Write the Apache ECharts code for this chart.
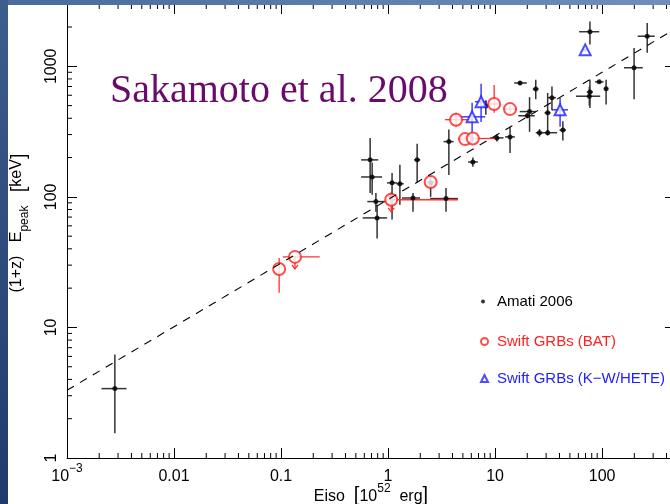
<!DOCTYPE html>
<html>
<head>
<meta charset="utf-8">
<script src="https://cdn.jsdelivr.net/npm/echarts@6/dist/echarts.min.js"></script>
<style>html,body{margin:0;padding:0;background:#fff}#chart{width:670px;height:504px}</style>
</head>
<body>
<div id="chart"></div>
<script>
// rows: Eiso, Epeak, Eiso low, Eiso high, Epeak low, Epeak high
var amati = [
  [0.0028, 3.4, 0.0021, 0.0036, 1.55, 6.2],
  [0.68, 192, 0.56, 0.81, 107, 283],
  [0.71, 142, 0.56, 0.88, 104, 183],
  [0.77, 92, 0.64, 0.98, 77, 107],
  [0.79, 69, 0.58, 0.98, 48, 87],
  [1.09, 128, 0.98, 1.21, 67, 152],
  [1.07, 100, 1.0, 1.15, 92, 108],
  [1.29, 126, 1.2, 1.4, 87, 176],
  [1.87, 192, 1.75, 2.0, 130, 255],
  [1.71, 98, 1.35, 1.99, 77, 107],
  [2.5, 128, 2.4, 2.6, 100, 135],
  [3.48, 97, 2.47, 4.5, 77, 117],
  [3.7, 265, 3.3, 4.1, 147, 328],
  [6.2, 185, 5.6, 6.9, 170, 200],
  [8.2, 498, 7.6, 8.8, 425, 550],
  [10.4, 283, 9.0, 12.0, 265, 300],
  [13.8, 288, 12.4, 15.3, 217, 345],
  [17.1, 745, 15.1, 19.8, 720, 770],
  [24, 670, 22.5, 25.5, 560, 790],
  [34, 575, 31, 37, 460, 700],
  [21, 450, 17, 24, 315, 580],
  [20, 418, 16.5, 23.5, 400, 435],
  [31, 440, 29, 33, 310, 625],
  [26, 310, 24, 28, 290, 330],
  [31, 310, 27, 38, 295, 325],
  [43, 325, 40, 46, 270, 380],
  [77, 1840, 61, 94, 1470, 2200],
  [264, 1700, 215, 310, 1270, 2150],
  [199, 975, 160, 240, 560, 1380],
  [94, 760, 86, 103, 740, 780],
  [77, 635, 72, 82, 480, 790],
  [76, 590, 57, 96, 500, 700],
  [109, 674, 104, 114, 510, 790]
];
// last column: 1 = upper limit
var bat = [
  [0.096, 28, 0.096, 0.096, 18.4, 34, 0],
  [0.135, 34.7, 0.104, 0.23, 34.7, 34.7, 1],
  [1.07, 95, 0.97, 4.5, 95, 95, 1],
  [2.5, 130, 2.3, 2.75, 120, 145, 0],
  [4.32, 390, 3.4, 6.2, 345, 440, 0],
  [5.25, 277, 4.5, 6.0, 265, 290, 0],
  [6.2, 280, 5.5, 10.4, 265, 295, 0],
  [9.8, 515, 9.0, 10.7, 440, 720, 0],
  [13.8, 470, 12, 16, 440, 500, 0]
];
var hete = [
  [6.1, 410, 4.4, 8.1, 260, 525],
  [7.4, 535, 6.5, 8.4, 375, 735],
  [40.5, 464, 34, 48, 345, 575],
  [69.5, 1336, 66, 73, 1290, 1380]
];
var fitLine = [[0.001, 3.3], [480, 1930]];
var xTickText = ['{n|10}{sup|−3}', '{n|0.01}', '{n|0.1}', '{n|1}', '{n|10}', '{n|100}'];
var yTickText = ['1', '10', '100', '1000'];

var X_MIN = 0.001, X_MAX = 480, Y_MIN = 1, Y_MAX = 3000;
var FONT = 'Liberation Sans';

// minor ticks at 2..9 of each decade
var xMinor = [], yMinor = [];
for (var k = -3; k <= 2; k++) for (var m = 2; m <= 9; m++) {
  if (m * Math.pow(10, k) < X_MAX) xMinor.push([m * Math.pow(10, k), Y_MIN]);
}
for (k = 0; k <= 3; k++) for (m = 2; m <= 9; m++) {
  if (m * Math.pow(10, k) < Y_MAX) yMinor.push([X_MIN, m * Math.pow(10, k)]);
}

function decade(v) {
  var l = Math.log10(v), e = Math.round(l);
  return Math.abs(l - e) < 1e-6 ? e : null;
}

function errorBars(color, width) {
  return function (params, api) {
    var x = api.value(0), y = api.value(1);
    var c = api.coord([x, y]);
    var xl = api.coord([api.value(2), y]), xr = api.coord([api.value(3), y]);
    var yl = api.coord([x, api.value(4)]), yh = api.coord([x, api.value(5)]);
    var kids = [];
    if (xr[0] - xl[0] > 0.5) {
      kids.push({type: 'line', shape: {x1: xl[0], y1: c[1], x2: xr[0], y2: c[1]},
        style: {stroke: color, lineWidth: width}});
    }
    if (yl[1] - yh[1] > 0.5) {
      kids.push({type: 'line', shape: {x1: c[0], y1: yh[1], x2: c[0], y2: yl[1]},
        style: {stroke: color, lineWidth: width}});
    }
    if (api.value(6) === 1) {
      kids.push({type: 'line', shape: {x1: c[0], y1: c[1], x2: c[0], y2: c[1] + 12},
        style: {stroke: color, lineWidth: width}});
      kids.push({type: 'polyline', shape: {points: [[c[0] - 3, c[1] + 8], [c[0], c[1] + 12], [c[0] + 3, c[1] + 8]]},
        style: {stroke: color, lineWidth: width, fill: null}});
    }
    return {type: 'group', children: kids};
  };
}

var chart = echarts.init(document.getElementById('chart'));
var axisLine = {lineStyle: {color: '#000', width: 1}};
var tick = {inside: true, length: 10, lineStyle: {color: '#000', width: 1}};
var nameRich = {
  n: {fontFamily: FONT, fontSize: 16, lineHeight: 22, verticalAlign: 'bottom', color: '#000'},
  br: {fontFamily: FONT, fontSize: 20, lineHeight: 22, verticalAlign: 'bottom', color: '#000'},
  sup: {fontFamily: FONT, fontSize: 12, lineHeight: 10, verticalAlign: 'top', color: '#000'}
};

var option = {
  backgroundColor: '#fff',
  animation: false,
  title: {
    text: 'Sakamoto et al. 2008', left: 105, top: 66,
    textStyle: {fontFamily: 'Liberation Serif', fontSize: 40, fontWeight: 'normal', color: '#6a0a6c'}
  },
  legend: [
    {data: [{name: 'Amati 2006', icon: 'circle'}], left: 481, top: 294, padding: 0,
      itemWidth: 4, itemHeight: 4, textStyle: {fontFamily: FONT, fontSize: 15, color: '#000', padding: [0, 0, 0, 7]}},
    {data: [{name: 'Swift GRBs (BAT)', icon: 'emptyCircle'}], left: 480, top: 334, padding: 0,
      itemWidth: 7, itemHeight: 7, textStyle: {fontFamily: FONT, fontSize: 15, color: '#ff2020', padding: [0, 0, 0, 4]}},
    {data: [{name: 'Swift GRBs (K−W/HETE)', icon: 'emptyTriangle'}], left: 480, top: 371, padding: 0,
      itemWidth: 7, itemHeight: 7, textStyle: {fontFamily: FONT, fontSize: 15, color: '#2020ff', padding: [0, 0, 0, 4]}}
  ],
  grid: {left: 67, right: -5, top: 4, bottom: 46, containLabel: false, outerBoundsMode: 'none'},
  xAxis: [{
    type: 'log', logBase: 10, min: X_MIN, max: X_MAX, position: 'bottom',
    axisLine: axisLine, axisTick: tick, splitLine: {show: false},
    axisLabel: {
      margin: 5, color: '#000', fontFamily: FONT, fontSize: 16,
      formatter: function (v) { var e = decade(v); return e === null ? '' : xTickText[e + 3]; },
      rich: {n: {fontFamily: FONT, fontSize: 16, lineHeight: 22, verticalAlign: 'bottom', color: '#000'},
             sup: {fontFamily: FONT, fontSize: 12, lineHeight: 10, verticalAlign: 'top', color: '#000'}}
    },
    name: '{n|Eiso  }{br|[}{n|10}{sup|52}{n|  erg}{br|]}', nameLocation: 'middle', nameGap: 25,
    nameMoveOverlap: false,
    nameTextStyle: {rich: nameRich}
  }, {
    type: 'log', logBase: 10, min: X_MIN, max: X_MAX, position: 'top',
    axisLine: axisLine, axisTick: tick, axisLabel: {show: false}, splitLine: {show: false}
  }],
  yAxis: [{
    type: 'log', logBase: 10, min: Y_MIN, max: Y_MAX, position: 'left',
    axisLine: axisLine, axisTick: tick, splitLine: {show: false},
    axisLabel: {
      rotate: 90, margin: 7, color: '#000', fontFamily: FONT, fontSize: 16,
      formatter: function (v) { var e = decade(v); return e === null ? '' : yTickText[e]; }
    },
    name: '{n|(1+z)   E}{sub|peak}{n|   }{br|[}{n|keV}{br|]}', nameLocation: 'middle', nameGap: 36,
    nameMoveOverlap: false,
    nameTextStyle: {
      padding: [0, 0, 0, 16],
      rich: {n: {fontFamily: FONT, fontSize: 16, lineHeight: 22, verticalAlign: 'top', color: '#000'},
             br: {fontFamily: FONT, fontSize: 20, lineHeight: 22, verticalAlign: 'top', color: '#000'},
             sub: {fontFamily: FONT, fontSize: 12, lineHeight: 12, verticalAlign: 'bottom', color: '#000'}}
    }
  }, {
    type: 'log', logBase: 10, min: Y_MIN, max: Y_MAX, position: 'right',
    axisLine: axisLine, axisTick: tick, axisLabel: {show: false}, splitLine: {show: false}
  }],
  series: [
    {
      type: 'custom', name: 'xminor', silent: true, data: xMinor, encode: {x: 0, y: 1},
      renderItem: function (params, api) {
        var b = api.coord([api.value(0), Y_MIN]), t = api.coord([api.value(0), Y_MAX]);
        return {type: 'group', children: [
          {type: 'line', shape: {x1: b[0], y1: b[1], x2: b[0], y2: b[1] - 5}, style: {stroke: '#000', lineWidth: 1}},
          {type: 'line', shape: {x1: t[0], y1: t[1], x2: t[0], y2: t[1] + 5}, style: {stroke: '#000', lineWidth: 1}}
        ]};
      }
    },
    {
      type: 'custom', name: 'yminor', silent: true, data: yMinor, encode: {x: 0, y: 1},
      renderItem: function (params, api) {
        var l = api.coord([X_MIN, api.value(1)]), r = api.coord([X_MAX, api.value(1)]);
        return {type: 'group', children: [
          {type: 'line', shape: {x1: l[0], y1: l[1], x2: l[0] + 5, y2: l[1]}, style: {stroke: '#000', lineWidth: 1}},
          {type: 'line', shape: {x1: r[0], y1: r[1], x2: r[0] - 5, y2: r[1]}, style: {stroke: '#000', lineWidth: 1}}
        ]};
      }
    },
    {
      type: 'line', name: 'fit', data: fitLine, symbol: 'none', silent: true,
      lineStyle: {color: '#000', width: 1.1, type: [8, 7]}
    },
    {type: 'custom', name: 'amatiErr', silent: true, data: amati, encode: {x: 0, y: 1}, renderItem: errorBars('#333', 1.5)},
    {type: 'custom', name: 'batErr', silent: true, data: bat, encode: {x: 0, y: 1}, renderItem: errorBars('#ff3030', 1.3)},
    {type: 'custom', name: 'heteErr', silent: true, data: hete, encode: {x: 0, y: 1}, renderItem: errorBars('#2020ff', 1.3)},
    {
      type: 'scatter', name: 'Amati 2006', symbol: 'circle', symbolSize: 5,
      itemStyle: {color: '#000'}, data: amati.map(function (r) { return [r[0], r[1]]; })
    },
    {
      type: 'scatter', name: 'Swift GRBs (BAT)', symbol: 'emptyCircle', symbolSize: 12,
      itemStyle: {color: '#ff2020', borderColor: '#ff2020', borderWidth: 1.3},
      data: bat.map(function (r) { return [r[0], r[1]]; })
    },
    {
      type: 'scatter', name: 'Swift GRBs (K−W/HETE)', symbol: 'emptyTriangle', symbolSize: 11,
      itemStyle: {color: '#2020ff', borderColor: '#2020ff', borderWidth: 1.3},
      data: hete.map(function (r) { return [r[0], r[1]]; })
    }
  ],
  graphic: [
    {type: 'rect', left: 0, top: 0, z: 100, shape: {width: 8, height: 504},
      style: {fill: {type: 'linear', x: 0, y: 0, x2: 0, y2: 1,
        colorStops: [{offset: 0, color: '#3d5d8e'}, {offset: 1, color: '#1e3b6c'}]}}},
    {type: 'rect', left: 8, top: 0, z: 100, shape: {width: 662, height: 5},
      style: {fill: {type: 'linear', x: 0, y: 0, x2: 1, y2: 0,
        colorStops: [{offset: 0, color: '#4a6a9a'}, {offset: 1, color: '#7090bb'}]}}}
  ]
};
chart.setOption(option);
</script>
</body>
</html>
